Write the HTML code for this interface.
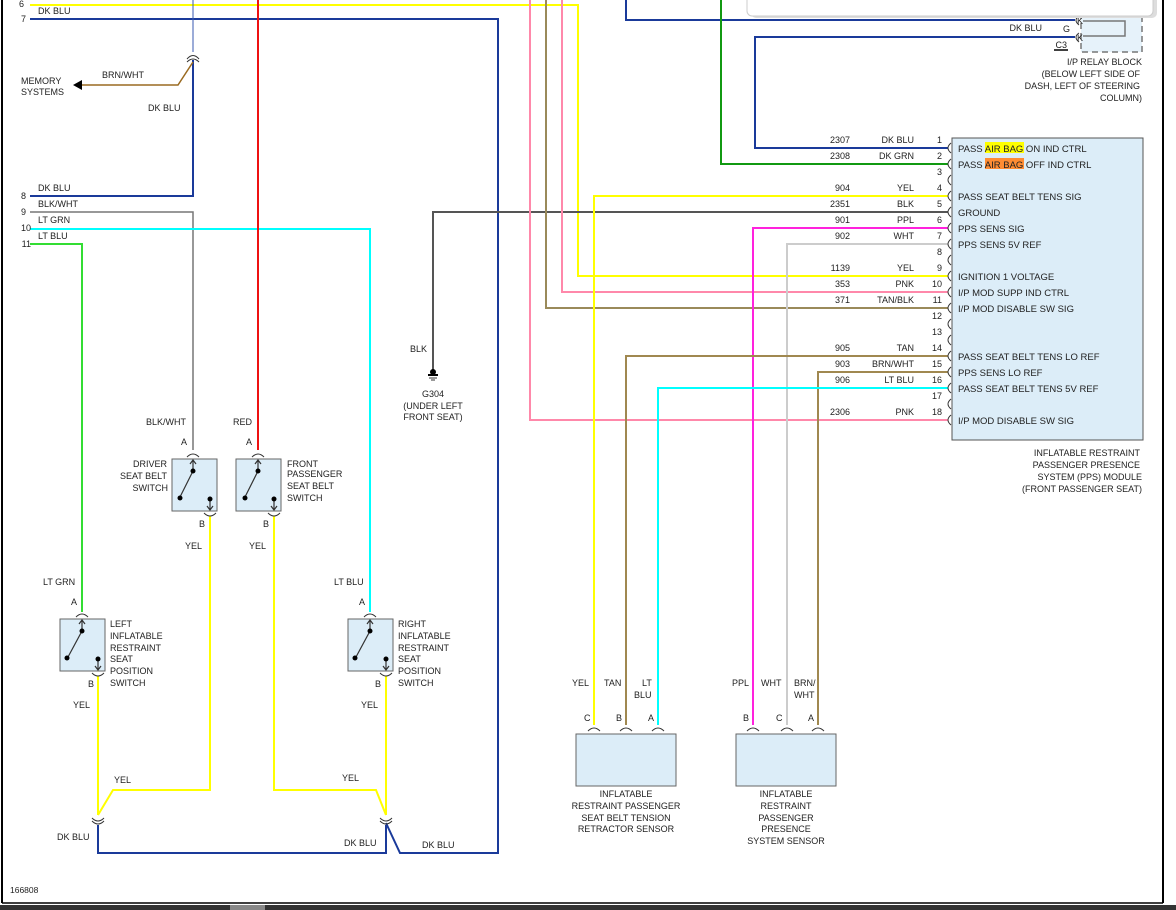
<!DOCTYPE html>
<html><head><meta charset="utf-8"><style>
html,body{margin:0;padding:0;background:#fff;}
svg{display:block;font-family:"Liberation Sans",Arial,sans-serif;font-size:9.5px;fill:#222;}
</style></head><body>
<svg width="1176" height="910" viewBox="0 0 1176 910" xmlns="http://www.w3.org/2000/svg">
<rect width="1176" height="910" fill="#fff"/>
<!-- frame -->
<line x1="2" y1="0" x2="2" y2="903" stroke="#000" stroke-width="2"/>
<line x1="1163" y1="0" x2="1163" y2="903" stroke="#000" stroke-width="2"/>
<line x1="2" y1="903" x2="1163" y2="903" stroke="#000" stroke-width="1.5"/>
<rect x="0" y="905" width="1176" height="5" fill="#333"/>
<rect x="230" y="905" width="35" height="5" fill="#888"/>

<g fill="none" stroke-width="2">
<!-- left harness -->
<polyline points="30,5 578,5 578,276 948,276" stroke="#ffff00"/>
<polyline points="30,19 498,19 498,853 400,853 386,823" stroke="#1a3a9a"/>
<line x1="193" y1="0" x2="193" y2="52" stroke="#3a5ab0" stroke-width="1"/>
<polyline points="193,60 193,196 30,196" stroke="#1a3a9a"/>
<polyline points="193,62 178,85 82,85" stroke="#9a6a20" stroke-width="1.5"/>
<polyline points="30,212 193,212 193,450" stroke="#777" stroke-width="1.5"/>
<polyline points="30,229 370,229 370,612" stroke="#00ffff"/>
<polyline points="30,244 82,244 82,612" stroke="#33dd33"/>
<line x1="258" y1="0" x2="258" y2="450" stroke="#ee1111"/>
<polyline points="948,212 433,212 433,370" stroke="#555" stroke-width="2"/>
<polyline points="530,0 530,420 948,420" stroke="#ff88aa"/>
<polyline points="546,0 546,308 948,308" stroke="#9a8a5a"/>
<polyline points="562,0 562,292 948,292" stroke="#ff88aa"/>
<polyline points="626,0 626,20 1075,20" stroke="#1a3a9a"/>
<polyline points="721,0 721,164 948,164" stroke="#119911"/>
<polyline points="1075,37 755,37 755,148 948,148" stroke="#1a3a9a"/>
<!-- sensors wires -->
<polyline points="948,196 594,196 594,725" stroke="#ffff00"/>
<polyline points="948,228 753,228 753,725" stroke="#ff22dd"/>
<polyline points="948,244 787,244 787,725" stroke="#ccc"/>
<polyline points="948,356 626,356 626,725" stroke="#a08850"/>
<polyline points="948,372 818,372 818,725" stroke="#a08850"/>
<polyline points="948,388 658,388 658,725" stroke="#00ffff"/>
<!-- switch outputs -->
<polyline points="210,516 210,790 113,790 98,815" stroke="#ffff00"/>
<line x1="98" y1="676" x2="98" y2="815" stroke="#ffff00"/>
<polyline points="274,516 274,790 376,790 386,815" stroke="#ffff00"/>
<line x1="386" y1="676" x2="386" y2="815" stroke="#ffff00"/>
<polyline points="98,825 98,853 386,853 386,825" stroke="#1a3a9a"/>
</g>
<polygon points="73,85 82,80 82,90" fill="#000"/>
<!-- connector arcs -->
<g fill="none" stroke="#333" stroke-width="1">
<path d="M187,59 Q193,52 199,59"/><path d="M187,62 Q193,56 199,62"/>
<path d="M92,818 Q98,824 104,818"/><path d="M92,821 Q98,827 104,821"/>
<path d="M380,818 Q386,824 392,818"/><path d="M380,821 Q386,827 392,821"/>
<path d="M187,457 Q193,451 199,457"/><path d="M252,457 Q258,451 264,457"/>
<path d="M76,617 Q82,611 88,617"/><path d="M364,617 Q370,611 376,617"/>
<path d="M204,513 Q210,519 216,513"/><path d="M268,513 Q274,519 280,513"/>
<path d="M92,673 Q98,679 104,673"/><path d="M380,673 Q386,679 392,673"/>
<path d="M588,731 Q594,725 600,731"/><path d="M620,731 Q626,725 632,731"/><path d="M652,731 Q658,725 664,731"/>
<path d="M747,731 Q753,725 759,731"/><path d="M781,731 Q787,725 793,731"/><path d="M812,731 Q818,725 824,731"/>
<path d="M1079,16 Q1073,20 1079,25"/><path d="M1079,33 Q1073,37 1079,42"/>
</g>
<!-- module pin arcs -->
<g fill="none" stroke="#333" stroke-width="1">
<path d="M951,143 Q945,148 951,153"/><path d="M951,159 Q945,164 951,169"/><path d="M951,175 Q945,180 951,185"/>
<path d="M951,191 Q945,196 951,201"/><path d="M951,207 Q945,212 951,217"/><path d="M951,223 Q945,228 951,233"/>
<path d="M951,239 Q945,244 951,249"/><path d="M951,255 Q945,260 951,265"/><path d="M951,271 Q945,276 951,281"/>
<path d="M951,287 Q945,292 951,297"/><path d="M951,303 Q945,308 951,313"/><path d="M951,319 Q945,324 951,329"/>
<path d="M951,335 Q945,340 951,345"/><path d="M951,351 Q945,356 951,361"/><path d="M951,367 Q945,372 951,377"/>
<path d="M951,383 Q945,388 951,393"/><path d="M951,399 Q945,404 951,409"/><path d="M951,415 Q945,420 951,425"/>
</g>
<!-- module -->
<rect x="952" y="138" width="191" height="302" fill="#dcedf8" stroke="#555" stroke-width="1"/>
<rect x="985" y="142" width="39" height="11" fill="#ffff00"/>
<rect x="985" y="158" width="39" height="11" fill="#ff8c33"/>
<g font-size="9.5">
<text x="958" y="152">PASS AIR BAG ON IND CTRL</text>
<text x="958" y="168">PASS AIR BAG OFF IND CTRL</text>
<text x="958" y="200">PASS SEAT BELT TENS SIG</text>
<text x="958" y="216">GROUND</text>
<text x="958" y="232">PPS SENS SIG</text>
<text x="958" y="248">PPS SENS 5V REF</text>
<text x="958" y="280">IGNITION 1 VOLTAGE</text>
<text x="958" y="296">I/P MOD SUPP IND CTRL</text>
<text x="958" y="312">I/P MOD DISABLE SW SIG</text>
<text x="958" y="360">PASS SEAT BELT TENS LO REF</text>
<text x="958" y="376">PPS SENS LO REF</text>
<text x="958" y="392">PASS SEAT BELT TENS 5V REF</text>
<text x="958" y="424">I/P MOD DISABLE SW SIG</text>
</g>
<g text-anchor="end" font-size="9">
<text x="942" y="143">1</text><text x="942" y="159">2</text><text x="942" y="175">3</text><text x="942" y="191">4</text>
<text x="942" y="207">5</text><text x="942" y="223">6</text><text x="942" y="239">7</text><text x="942" y="255">8</text>
<text x="942" y="271">9</text><text x="942" y="287">10</text><text x="942" y="303">11</text><text x="942" y="319">12</text>
<text x="942" y="335">13</text><text x="942" y="351">14</text><text x="942" y="367">15</text><text x="942" y="383">16</text>
<text x="942" y="399">17</text><text x="942" y="415">18</text>
<text x="850" y="143">2307</text><text x="914" y="143">DK BLU</text>
<text x="850" y="159">2308</text><text x="914" y="159">DK GRN</text>
<text x="850" y="191">904</text><text x="914" y="191">YEL</text>
<text x="850" y="207">2351</text><text x="914" y="207">BLK</text>
<text x="850" y="223">901</text><text x="914" y="223">PPL</text>
<text x="850" y="239">902</text><text x="914" y="239">WHT</text>
<text x="850" y="271">1139</text><text x="914" y="271">YEL</text>
<text x="850" y="287">353</text><text x="914" y="287">PNK</text>
<text x="850" y="303">371</text><text x="914" y="303">TAN/BLK</text>
<text x="850" y="351">905</text><text x="914" y="351">TAN</text>
<text x="850" y="367">903</text><text x="914" y="367">BRN/WHT</text>
<text x="850" y="383">906</text><text x="914" y="383">LT BLU</text>
<text x="850" y="415">2306</text><text x="914" y="415">PNK</text>
<text x="1140" y="456">INFLATABLE RESTRAINT</text>
<text x="1140" y="468">PASSENGER PRESENCE</text>
<text x="1142" y="480">SYSTEM (PPS) MODULE</text>
<text x="1142" y="492">(FRONT PASSENGER SEAT)</text>
<text x="1142" y="65">I/P RELAY BLOCK</text>
<text x="1140" y="77">(BELOW LEFT SIDE OF</text>
<text x="1140" y="89">DASH, LEFT OF STEERING</text>
<text x="1142" y="101">COLUMN)</text>
<text x="1042" y="31">DK BLU</text>
<text x="1070" y="32">G</text>
<text x="1067" y="48">C3</text>
</g>
<line x1="1054" y1="50" x2="1068" y2="50" stroke="#000" stroke-width="1.5"/>
<!-- relay block -->
<rect x="1081" y="17" width="61" height="35" fill="#e6f2fa" stroke="#777" stroke-width="1.5" stroke-dasharray="6,4"/>
<polyline points="1083,21 1125,21 1125,36 1083,36" fill="none" stroke="#777" stroke-width="1.5"/>
<text x="1077" y="24" font-size="9">K</text><text x="1077" y="41" font-size="9">K</text>
<!-- popup box -->
<rect x="751" y="-10" width="406" height="28" rx="5" fill="#ddd"/>
<rect x="747" y="-10" width="406" height="26" rx="5" fill="#fff" stroke="#ccc"/>
<!-- left labels -->
<g font-size="9">
<text x="24" y="7" text-anchor="end">6</text>
<text x="38" y="14">DK BLU</text><text x="26" y="22" text-anchor="end">7</text>
<text x="38" y="191">DK BLU</text><text x="26" y="199" text-anchor="end">8</text>
<text x="38" y="207">BLK/WHT</text><text x="26" y="215" text-anchor="end">9</text>
<text x="38" y="223">LT GRN</text><text x="31" y="231" text-anchor="end">10</text>
<text x="38" y="239">LT BLU</text><text x="31" y="247" text-anchor="end">11</text>
<text x="21" y="84">MEMORY</text><text x="21" y="95">SYSTEMS</text>
<text x="102" y="78">BRN/WHT</text>
<text x="148" y="111">DK BLU</text>
<text x="410" y="352">BLK</text>
<text x="433" y="397" text-anchor="middle">G304</text>
<text x="433" y="409" text-anchor="middle">(UNDER LEFT</text>
<text x="433" y="420" text-anchor="middle">FRONT SEAT)</text>
<text x="146" y="425">BLK/WHT</text><text x="233" y="425">RED</text>
<text x="181" y="445">A</text><text x="246" y="445">A</text>
<text x="167" y="467" text-anchor="end">DRIVER</text>
<text x="167" y="479" text-anchor="end">SEAT BELT</text>
<text x="168" y="491" text-anchor="end">SWITCH</text>
<text x="287" y="467">FRONT</text><text x="287" y="477">PASSENGER</text>
<text x="287" y="489">SEAT BELT</text><text x="287" y="501">SWITCH</text>
<text x="199" y="527">B</text><text x="263" y="527">B</text>
<text x="185" y="549">YEL</text><text x="249" y="549">YEL</text>
<text x="43" y="585">LT GRN</text><text x="334" y="585">LT BLU</text>
<text x="71" y="605">A</text><text x="359" y="605">A</text>
<text x="110" y="627">LEFT</text><text x="110" y="639">INFLATABLE</text><text x="110" y="651">RESTRAINT</text>
<text x="110" y="662">SEAT</text><text x="110" y="674">POSITION</text><text x="110" y="686">SWITCH</text>
<text x="398" y="627">RIGHT</text><text x="398" y="639">INFLATABLE</text><text x="398" y="651">RESTRAINT</text>
<text x="398" y="662">SEAT</text><text x="398" y="674">POSITION</text><text x="398" y="686">SWITCH</text>
<text x="88" y="687">B</text><text x="375" y="687">B</text>
<text x="73" y="708">YEL</text><text x="361" y="708">YEL</text>
<text x="114" y="783">YEL</text><text x="342" y="781">YEL</text>
<text x="57" y="840">DK BLU</text><text x="344" y="846">DK BLU</text><text x="422" y="848">DK BLU</text>
<text x="10" y="893" font-size="8.5">166808</text>
<text x="572" y="686">YEL</text><text x="604" y="686">TAN</text>
<text x="642" y="686">LT</text><text x="634" y="698">BLU</text>
<text x="732" y="686">PPL</text><text x="761" y="686">WHT</text>
<text x="794" y="686">BRN/</text><text x="794" y="698">WHT</text>
<text x="584" y="721">C</text><text x="616" y="721">B</text><text x="648" y="721">A</text>
<text x="743" y="721">B</text><text x="776" y="721">C</text><text x="808" y="721">A</text>
</g>
<g font-size="9" text-anchor="middle">
<text x="626" y="797">INFLATABLE</text><text x="626" y="809">RESTRAINT PASSENGER</text>
<text x="626" y="821">SEAT BELT TENSION</text><text x="626" y="832">RETRACTOR SENSOR</text>
<text x="786" y="797">INFLATABLE</text><text x="786" y="809">RESTRAINT</text>
<text x="786" y="821">PASSENGER</text><text x="786" y="832">PRESENCE</text><text x="786" y="844">SYSTEM SENSOR</text>
</g>
<!-- ground symbol -->
<circle cx="433" cy="372" r="3" fill="#000"/>
<rect x="428" y="374" width="10" height="2" fill="#000"/>
<line x1="429" y1="378" x2="437" y2="378" stroke="#000" stroke-width="0.8"/>
<line x1="431" y1="380" x2="435" y2="380" stroke="#000" stroke-width="0.8"/>
<!-- switches -->
<g stroke="#666" stroke-width="1" fill="#dcedf8">
<rect x="172" y="459" width="45" height="52"/>
<rect x="236" y="459" width="45" height="52"/>
<rect x="60" y="619" width="45" height="52"/>
<rect x="348" y="619" width="45" height="52"/>
<rect x="576" y="734" width="100" height="52"/>
<rect x="736" y="734" width="100" height="52"/>
</g>
<g stroke="#333" stroke-width="1.2" fill="none">
<path d="M193,460 V470 M190,464 L193,460 L196,464 M193,471 L180,497 M210,498 V510 M207,506 L210,510 L213,506"/>
<path d="M258,460 V470 M255,464 L258,460 L261,464 M258,471 L245,497 M274,498 V510 M271,506 L274,510 L277,506"/>
<path d="M82,620 V630 M79,624 L82,620 L85,624 M82,631 L68,657 M98,658 V670 M95,666 L98,670 L101,666"/>
<path d="M370,620 V630 M367,624 L370,620 L373,624 M370,631 L356,657 M386,658 V670 M383,666 L386,670 L389,666"/>
</g>
<g fill="#000">
<circle cx="193" cy="471" r="2.5"/><circle cx="180" cy="498" r="2.5"/><circle cx="210" cy="499" r="2.5"/>
<circle cx="258" cy="471" r="2.5"/><circle cx="245" cy="498" r="2.5"/><circle cx="274" cy="499" r="2.5"/>
<circle cx="82" cy="631" r="2.5"/><circle cx="67" cy="658" r="2.5"/><circle cx="98" cy="659" r="2.5"/>
<circle cx="370" cy="631" r="2.5"/><circle cx="355" cy="658" r="2.5"/><circle cx="386" cy="659" r="2.5"/>
</g>
</svg>
</body></html>
